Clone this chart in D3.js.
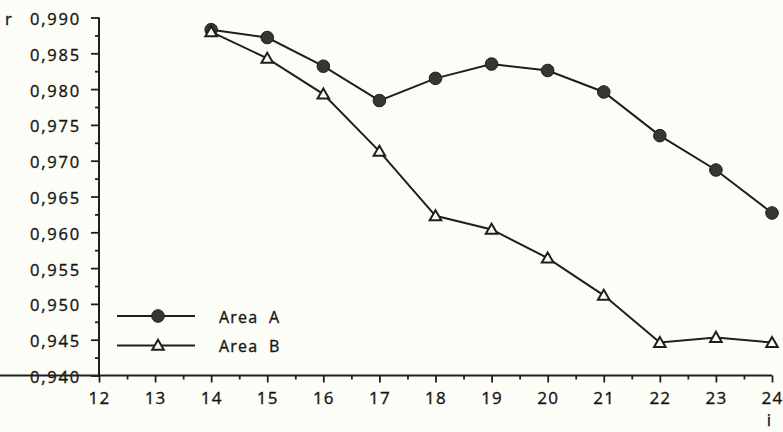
<!DOCTYPE html>
<html>
<head>
<meta charset="utf-8">
<script src="https://cdn.jsdelivr.net/npm/d3@7"></script>
<style>
  html, body { margin: 0; padding: 0; background: #fdfdf8; }
  svg { display: block; }
  text { font-family: "Open Sans", sans-serif; fill: #151515; stroke: #151515; stroke-width: 0.35px; }
</style>
</head>
<body>
<svg id="chart" width="783" height="432"></svg>
<script>
// ---- Data ----
const iValues = [14, 15, 16, 17, 18, 19, 20, 21, 22, 23, 24];
const areaA = [0.9883, 0.9872, 0.9832, 0.9784, 0.9815, 0.9835, 0.9826, 0.9796, 0.9735, 0.9687, 0.9627];
const areaB = [0.9880, 0.9843, 0.9793, 0.9713, 0.9623, 0.9604, 0.9564, 0.9512, 0.9446, 0.9453, 0.9446];
const seriesNames = ["Area  A", "Area  B"];
const xTicks = [12, 13, 14, 15, 16, 17, 18, 19, 20, 21, 22, 23, 24];
const yTicks = [0.940, 0.945, 0.950, 0.955, 0.960, 0.965, 0.970, 0.975, 0.980, 0.985, 0.990];
const xLabel = "i";
const yLabel = "r";

const svg = d3.select("#chart");
const ink = "#1e1e1e";

const x = d3.scaleLinear().domain([12, 24]).range([99, 772]);
const y = d3.scaleLinear().domain([0.940, 0.990]).range([375.5, 17.5]);

const fmt = v => d3.format(".3f")(v).replace(".", ",");

// Minor ticks
const yMinor = d3.range(0.9425, 0.990, 0.005);
const xMinor = d3.range(12.5, 24, 1);

const gy = svg.append("g").attr("transform", `translate(${x(12)},0)`);
gy.call(d3.axisLeft(y).tickValues(yTicks).tickSize(8).tickPadding(10).tickFormat(fmt));
const gyMinor = svg.append("g").attr("transform", `translate(${x(12)},0)`);
gyMinor.call(d3.axisLeft(y).tickValues(yMinor).tickSize(4).tickFormat(""));
gyMinor.select(".domain").remove();

const gx = svg.append("g").attr("transform", `translate(0,${y(0.940)})`);
gx.call(d3.axisBottom(x).tickValues(xTicks).tickSize(7).tickPadding(9).tickFormat(d3.format("d")));
const gxMinor = svg.append("g").attr("transform", `translate(0,${y(0.940)})`);
gxMinor.call(d3.axisBottom(x).tickValues(xMinor).tickSize(4).tickFormat(""));
gxMinor.select(".domain").remove();

svg.selectAll(".domain").attr("stroke", ink).attr("stroke-width", 2);
gy.select(".domain").attr("d", `M0,${y(0.990)}V${y(0.940) + 1}`);
gx.select(".domain").attr("d", `M-1,0H${x(24)}`);

svg.selectAll(".tick line").attr("stroke", ink).attr("stroke-width", 1.8);
gy.selectAll(".tick text")
  .style("font-size", "16.5px").style("letter-spacing", "1.8px")
  .attr("dy", "0.42em");
gx.selectAll(".tick text")
  .style("font-size", "17px").style("letter-spacing", "1.2px");
svg.selectAll(".tick text").attr("font-family", null).attr("fill", null);

// Axis letters
svg.append("text").attr("x", 5).attr("y", 25).style("font-size", "16.5px").text(yLabel);
svg.append("text").attr("x", 769).attr("y", 426).attr("text-anchor", "middle").style("font-size", "17px").text(xLabel);

// Lines
const line = d3.line().x((d, i) => x(iValues[i])).y(d => y(d));
svg.append("path").datum(areaA).attr("d", line).attr("fill", "none").attr("stroke", ink).attr("stroke-width", 2);
svg.append("path").datum(areaB).attr("d", line).attr("fill", "none").attr("stroke", ink).attr("stroke-width", 2);

// Markers
const triPath = d3.symbol().type(d3.symbolTriangle).size(58);
function circleMarker(sel, cx, cy) {
  sel.append("circle").attr("cx", cx).attr("cy", cy).attr("r", 6.3)
    .attr("fill", "#363636").attr("stroke", ink).attr("stroke-width", 1);
}
function triMarker(sel, cx, cy) {
  sel.append("path").attr("d", triPath()).attr("transform", `translate(${cx},${cy + 1})`)
    .attr("fill", "#fdfdf8").attr("stroke", ink).attr("stroke-width", 2);
}
const gm = svg.append("g");
areaA.forEach((v, i) => circleMarker(gm, x(iValues[i]), y(v)));
areaB.forEach((v, i) => triMarker(gm, x(iValues[i]), y(v)));

// Legend
const legY = [316, 345.5];
const lg = svg.append("g");
[0, 1].forEach(k => {
  lg.append("line").attr("x1", 117).attr("x2", 195).attr("y1", legY[k]).attr("y2", legY[k])
    .attr("stroke", ink).attr("stroke-width", 2);
  if (k === 0) circleMarker(lg, 158, legY[k]); else triMarker(lg, 158, legY[k]);
  lg.append("text").attr("x", 219).attr("y", legY[k] + 6.5)
    .style("font-size", "16px").style("letter-spacing", "1.2px").style("white-space", "pre")
    .attr("xml:space", "preserve")
    .text(seriesNames[k]);
});
</script>
</body>
</html>
